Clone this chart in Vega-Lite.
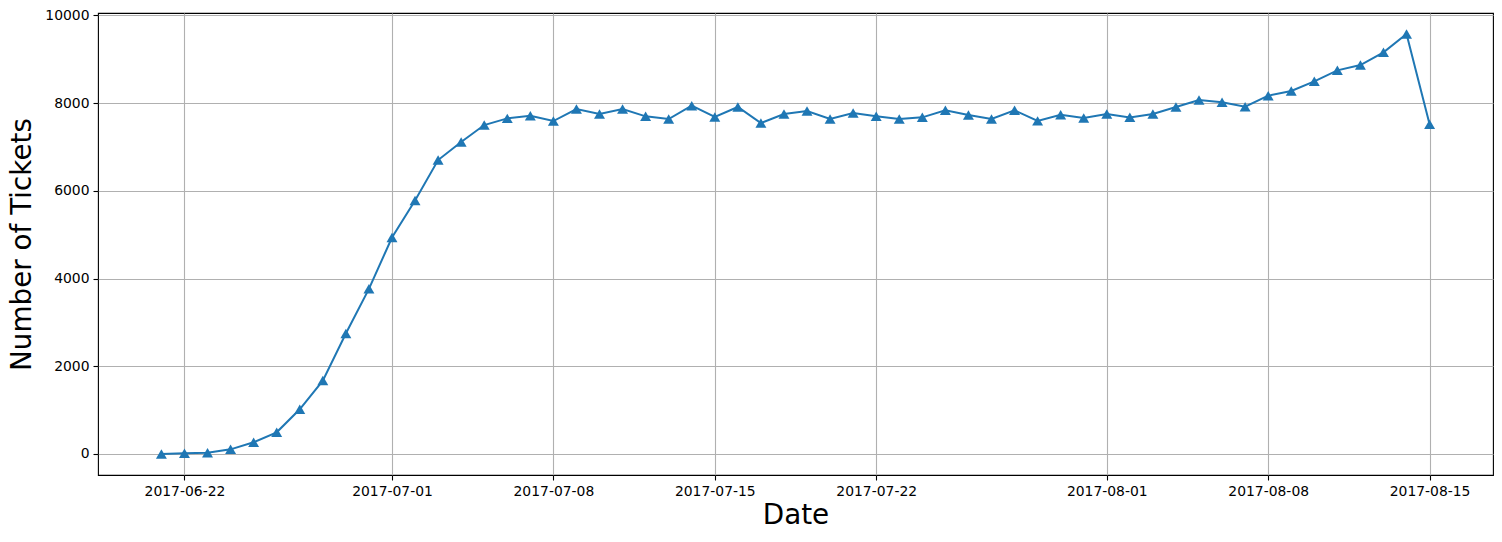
{
  "$schema": "https://vega.github.io/schema/vega-lite/v6.json",
  "width": 1395,
  "height": 462,
  "autosize": {"type": "none"},
  "padding": {"left": 98, "top": 13, "right": 9, "bottom": 67},
  "background": "white",
  "config": {
    "view": {"stroke": "black", "strokeWidth": 1.1},
    "axis": {
      "labelFont": "DejaVu Sans",
      "titleFont": "DejaVu Sans",
      "labelFontSize": 13.9,
      "titleFontSize": 27.8,
      "titleFontWeight": "normal",
      "labelColor": "black",
      "titleColor": "black",
      "domain": false,
      "tickColor": "black",
      "tickWidth": 1.1,
      "tickSize": 5,
      "labelPadding": 4,
      "grid": true,
      "gridColor": "#b0b0b0",
      "gridWidth": 1.1
    }
  },
  "data": {
    "values": [
      {"date": "2017-06-21", "tickets": 0},
      {"date": "2017-06-22", "tickets": 15},
      {"date": "2017-06-23", "tickets": 30},
      {"date": "2017-06-24", "tickets": 106},
      {"date": "2017-06-25", "tickets": 266},
      {"date": "2017-06-26", "tickets": 494},
      {"date": "2017-06-27", "tickets": 1019},
      {"date": "2017-06-28", "tickets": 1673},
      {"date": "2017-06-29", "tickets": 2745},
      {"date": "2017-06-30", "tickets": 3764},
      {"date": "2017-07-01", "tickets": 4935},
      {"date": "2017-07-02", "tickets": 5779},
      {"date": "2017-07-03", "tickets": 6700},
      {"date": "2017-07-04", "tickets": 7110},
      {"date": "2017-07-05", "tickets": 7498},
      {"date": "2017-07-06", "tickets": 7650},
      {"date": "2017-07-07", "tickets": 7711},
      {"date": "2017-07-08", "tickets": 7589},
      {"date": "2017-07-09", "tickets": 7863},
      {"date": "2017-07-10", "tickets": 7749},
      {"date": "2017-07-11", "tickets": 7863},
      {"date": "2017-07-12", "tickets": 7696},
      {"date": "2017-07-13", "tickets": 7635},
      {"date": "2017-07-14", "tickets": 7939},
      {"date": "2017-07-15", "tickets": 7681},
      {"date": "2017-07-16", "tickets": 7909},
      {"date": "2017-07-17", "tickets": 7544},
      {"date": "2017-07-18", "tickets": 7749},
      {"date": "2017-07-19", "tickets": 7818},
      {"date": "2017-07-20", "tickets": 7635},
      {"date": "2017-07-21", "tickets": 7772},
      {"date": "2017-07-22", "tickets": 7696},
      {"date": "2017-07-23", "tickets": 7635},
      {"date": "2017-07-24", "tickets": 7673},
      {"date": "2017-07-25", "tickets": 7833},
      {"date": "2017-07-26", "tickets": 7726},
      {"date": "2017-07-27", "tickets": 7635},
      {"date": "2017-07-28", "tickets": 7833},
      {"date": "2017-07-29", "tickets": 7593},
      {"date": "2017-07-30", "tickets": 7734},
      {"date": "2017-07-31", "tickets": 7658},
      {"date": "2017-08-01", "tickets": 7749},
      {"date": "2017-08-02", "tickets": 7673},
      {"date": "2017-08-03", "tickets": 7749},
      {"date": "2017-08-04", "tickets": 7909},
      {"date": "2017-08-05", "tickets": 8068},
      {"date": "2017-08-06", "tickets": 8015},
      {"date": "2017-08-07", "tickets": 7916},
      {"date": "2017-08-08", "tickets": 8167},
      {"date": "2017-08-09", "tickets": 8274},
      {"date": "2017-08-10", "tickets": 8494},
      {"date": "2017-08-11", "tickets": 8745},
      {"date": "2017-08-12", "tickets": 8866},
      {"date": "2017-08-13", "tickets": 9155},
      {"date": "2017-08-14", "tickets": 9573},
      {"date": "2017-08-15", "tickets": 7514}
    ]
  },
  "mark": {
    "type": "line",
    "color": "#1f77b4",
    "strokeWidth": 2,
    "point": {"shape": "triangle-up", "filled": true, "size": 120, "color": "#1f77b4"}
  },
  "encoding": {
    "x": {
      "field": "date",
      "type": "temporal",
      "scale": {
        "type": "utc",
        "domain": [
          {"year": 2017, "month": 6, "date": 18, "hours": 6, "utc": true},
          {"year": 2017, "month": 8, "date": 17, "hours": 18, "utc": true}
        ],
        "nice": false
      },
      "axis": {
        "title": "Date",
        "labelExpr": "utcFormat(datum.value, '%Y-%m-%d')",
        "labelAngle": 0,
        "titlePadding": 4,
        "values": [
          {"year": 2017, "month": 6, "date": 22, "utc": true},
          {"year": 2017, "month": 7, "date": 1, "utc": true},
          {"year": 2017, "month": 7, "date": 8, "utc": true},
          {"year": 2017, "month": 7, "date": 15, "utc": true},
          {"year": 2017, "month": 7, "date": 22, "utc": true},
          {"year": 2017, "month": 8, "date": 1, "utc": true},
          {"year": 2017, "month": 8, "date": 8, "utc": true},
          {"year": 2017, "month": 8, "date": 15, "utc": true}
        ]
      }
    },
    "y": {
      "field": "tickets",
      "type": "quantitative",
      "scale": {"domain": [-479, 10052], "nice": false, "zero": false},
      "axis": {
        "title": "Number of Tickets",
        "values": [0, 2000, 4000, 6000, 8000, 10000],
        "format": "d",
        "titlePadding": 8
      }
    }
  }
}
